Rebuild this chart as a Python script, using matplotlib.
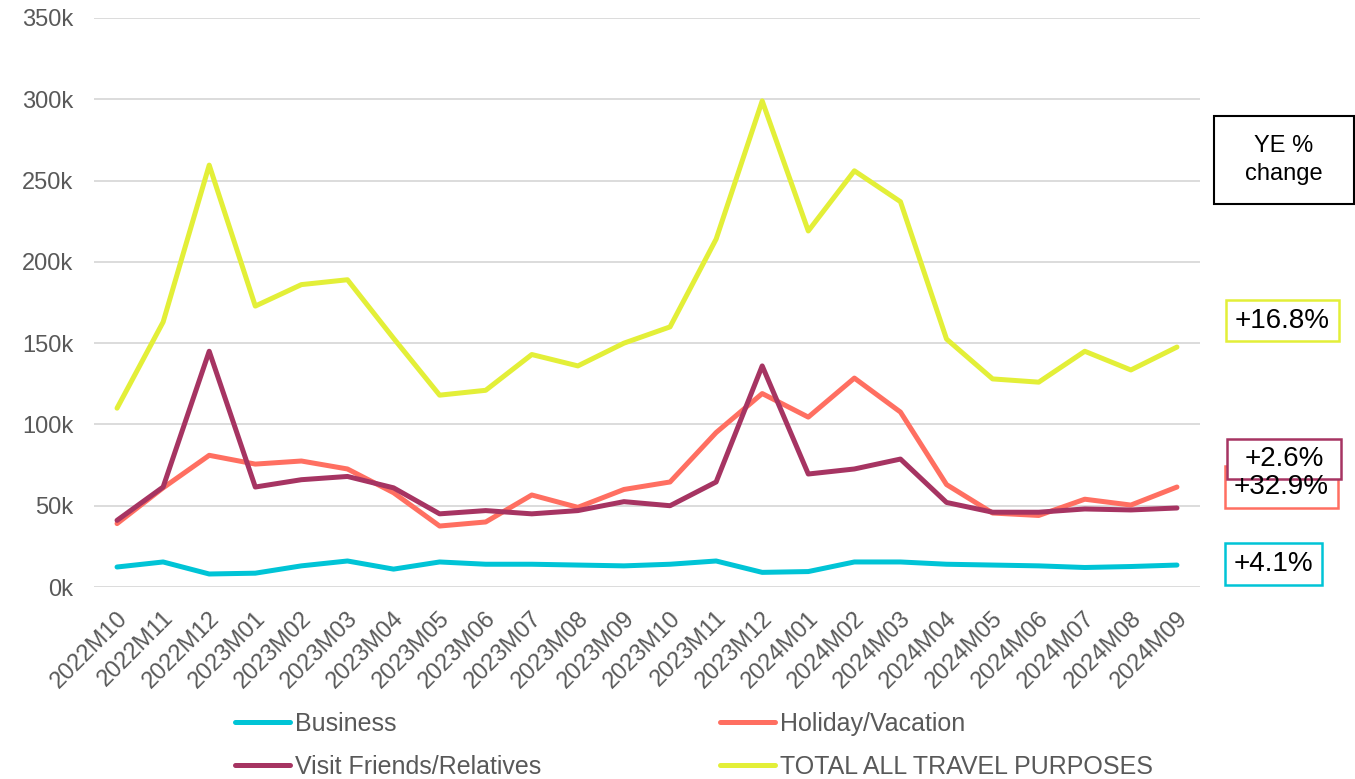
import matplotlib.pyplot as plt
import matplotlib.transforms as mtransforms
from matplotlib.patches import Rectangle

months = ['2022M10', '2022M11', '2022M12', '2023M01', '2023M02', '2023M03', '2023M04',
          '2023M05', '2023M06', '2023M07', '2023M08', '2023M09', '2023M10', '2023M11',
          '2023M12', '2024M01', '2024M02', '2024M03', '2024M04', '2024M05', '2024M06',
          '2024M07', '2024M08', '2024M09']

business = [12300, 15400, 8000, 8500, 13000, 16000, 11000, 15400, 14000, 14000, 13500, 13000,
            14000, 16000, 9000, 9500, 15400, 15400, 14000, 13500, 13000, 12000, 12600, 13500]
holiday = [39000, 61000, 81000, 75600, 77500, 72600, 58000, 37500, 40000, 56600, 49000, 60000,
           64600, 95000, 119000, 104500, 128500, 107600, 63000, 45500, 44000, 54000, 50400, 61500]
vfr = [41000, 61500, 145000, 61500, 66000, 68000, 61000, 45000, 47000, 45000, 47000, 52500,
       50000, 64600, 136000, 69500, 72600, 78700, 52000, 46000, 46000, 48000, 47400, 48600]
total = [110000, 163000, 259500, 172800, 186000, 189000, 153000, 118000, 121000, 143000, 136000, 150000,
         160000, 214000, 299000, 219000, 256000, 237000, 152500, 128000, 126000, 145000, 133500, 147600]

ye_labels = ['+32.9%', '+2.6%', '+16.8%', '+4.1%']

c_bus = '#00C4D6'
c_hol = '#FF6F61'
c_vfr = '#A63462'
c_tot = '#E3EF38'

plt.rcParams['font.family'] = ['Liberation Sans', 'DejaVu Sans']

W, H = 1355, 779
fig = plt.figure(figsize=(W / 100, H / 100), dpi=100)
ax = fig.add_axes([94 / W, 1 - 587 / H, (1200 - 94) / W, (587 - 18) / H])

x = list(range(len(months)))
lw = 3.6
ax.plot(x, business, color=c_bus, lw=lw, label='Business', solid_capstyle='round', solid_joinstyle='round')
ax.plot(x, vfr, color=c_vfr, lw=lw, label='Visit Friends/Relatives', solid_capstyle='round', solid_joinstyle='round')
ax.plot(x, holiday, color=c_hol, lw=lw, label='Holiday/Vacation', solid_capstyle='round', solid_joinstyle='round', zorder=1.9)
ax.plot(x, total, color=c_tot, lw=lw, label='TOTAL ALL TRAVEL PURPOSES', solid_capstyle='round', solid_joinstyle='round')

ax.set_xlim(-0.5, len(months) - 0.5)
ax.set_ylim(0, 350000)
ax.set_yticks(range(0, 350001, 50000))
ax.set_yticklabels([f'{v // 1000}k' for v in range(0, 350001, 50000)])
ax.set_xticks(x)
ax.set_xticklabels(months, rotation=45, ha='right', va='center', rotation_mode='anchor')
ax.tick_params(axis='both', length=0, labelsize=17, colors='#595959')
ax.tick_params(axis='y', pad=15)
ax.tick_params(axis='x', pad=20)
shift = mtransforms.ScaledTranslation(7 / 100, 0, fig.dpi_scale_trans)
for lab in ax.get_xticklabels():
    lab.set_transform(lab.get_transform() + shift)
ax.grid(axis='y', color='#D9D9D9', lw=1.3)
ax.set_axisbelow(True)
for s in ax.spines.values():
    s.set_visible(False)

handles, labels = ax.get_legend_handles_labels()
leg_kw = dict(loc='upper left', frameon=False, fontsize=18, handlelength=2.2,
              handletextpad=0.2, labelspacing=0.75, borderpad=0, borderaxespad=0)
leg1 = fig.legend(handles[:2], labels[:2], bbox_to_anchor=(235 / W, 1 - 712 / H), **leg_kw)
leg2 = fig.legend(handles[2:], labels[2:], bbox_to_anchor=(720 / W, 1 - 712 / H), **leg_kw)
for leg in (leg1, leg2):
    for t in leg.get_texts():
        t.set_color('#595959')
    for h in leg.get_lines():
        h.set_solid_capstyle('round')


def box(x0, y0, x1, y1, color, text, size, lw=1.8):
    fig.patches.append(Rectangle((x0 / W, 1 - y1 / H), (x1 - x0) / W, (y1 - y0) / H,
                                 transform=fig.transFigure, fc='white', ec=color, lw=lw))
    fig.text((x0 + x1) / 2 / W, 1 - (y0 + y1) / 2 / H, text, ha='center', va='center',
             fontsize=size, linespacing=1.35)


box(1214, 116, 1354, 204, 'black', 'YE %\nchange', 17, lw=1.5)
box_pos = [(1225, 466, 1338, 508), (1227, 439, 1341, 479), (1226, 300, 1339, 341), (1225, 543, 1322, 585)]
box_c = [c_hol, c_vfr, c_tot, c_bus]
for lab, pos, bc in zip(ye_labels, box_pos, box_c):
    box(*pos, bc, lab, 20)

fig.savefig('out.png', dpi=100)
